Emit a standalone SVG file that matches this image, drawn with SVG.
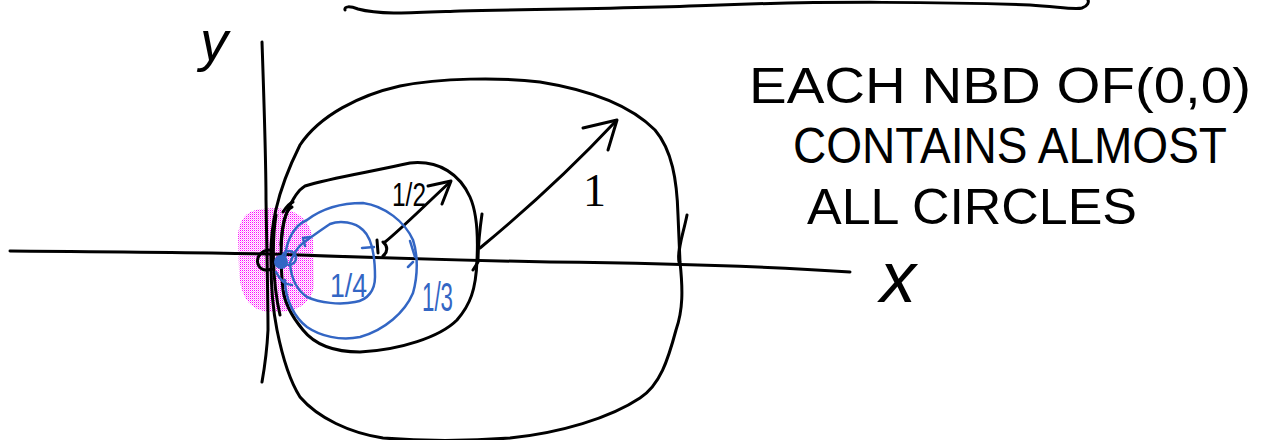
<svg xmlns="http://www.w3.org/2000/svg" width="1264" height="440" viewBox="0 0 1264 440">
<style>
.ink{fill:none;stroke:#000;stroke-width:3;stroke-linecap:round;stroke-linejoin:round}
.blue{fill:none;stroke:#3366c4;stroke-width:2.5;stroke-linecap:round;stroke-linejoin:round}
.hand{font-family:"Liberation Sans",Arial,sans-serif;fill:#000}
.bl{font-family:"Liberation Sans",Arial,sans-serif;fill:#3366c4}
</style>
<defs>
<pattern id="dots" width="2" height="2" patternUnits="userSpaceOnUse">
<rect x="0" y="0" width="1" height="1" fill="#ff00ff"/>
<rect x="1" y="1" width="1" height="1" fill="#ffa8ff"/>
</pattern>
</defs>
<rect width="1264" height="440" fill="#fff"/>

<g id="neighbourhood">
<path d="M262,209 C290,205 310,215 313,240 L314,285 C312,305 295,313 270,312 C248,310 240,295 239,270 L238,235 C240,215 250,210 262,209 Z" fill="url(#dots)"/>
</g>

<g id="topline">
<path class="ink" d="M345,10 C344,6 350,6 358,9 C380,15 410,13 460,11 C560,9 650,8 720,5 C820,1 950,2 1030,5 C1060,7 1075,10 1082,8 C1088,6 1089,2 1088,0"/>
</g>

<g id="axes">
<path class="ink" d="M262,42 C264,100 266,160 266,200 C267,260 268,300 268,330 C267,350 265,365 262,382"/>
<path class="ink" d="M10,251 C150,252 250,253 300,255 C380,258 450,260 550,262 C650,263 760,266 850,272"/>
<text class="hand" x="200" y="60" font-size="56" font-style="italic">y</text>
<text class="hand" x="880" y="302" font-size="72" font-style="italic">x</text>
</g>

<g id="circle-1">
<path class="ink" d="M271,262 C270,230 275,195 300,145 C320,115 360,95 400,86 C440,78 500,77 540,82 C590,90 630,105 655,130 C672,150 677,180 678,215 L680,262 C683,290 683,310 676,330 C668,360 660,385 640,398 C610,418 560,433 510,438 C470,441 420,441 383,438 C350,433 318,418 300,397 C288,378 282,355 277,330 C273,310 271,285 271,262 Z"/>
<path class="ink" d="M687,215 C683,235 677,250 679,262"/>
<path class="ink" d="M480,248 C520,215 570,170 615,122"/>
<path class="ink" d="M583,128 L617,120 L608,150"/>
<text x="583" y="206" font-family="Liberation Serif,serif" font-size="46">1</text>
</g>

<g id="circle-half">
<path class="ink" d="M283,290 C280,260 280,230 287,212 C292,200 298,190 305,186 C330,178 370,172 410,163 C440,160 460,175 470,197 C478,215 478,240 477,260 C476,290 470,305 457,320 C440,337 400,350 360,352 C335,352 315,345 303,330 C293,318 285,305 283,290 Z"/>
<path class="ink" d="M482,214 C480,228 478,245 478,262 L473,270"/>
<path class="ink" d="M377,240 L378,253 M383,242 C388,246 388,252 383,256"/>
<path class="ink" d="M385,242 C400,230 420,210 450,182"/>
<path class="ink" d="M428,186 L451,181 L442,204"/>
<text class="hand" x="392" y="206" font-size="34" textLength="34" lengthAdjust="spacingAndGlyphs">1/2</text>
</g>

<g id="circle-third">
<path class="blue" d="M285,262 C285,240 295,225 307,220 C320,210 340,203 363,203 C385,206 405,222 413,240 C418,255 418,275 413,293 C405,312 385,330 360,337 C340,341 320,336 307,327 C295,318 285,300 285,280"/>
<path class="blue" d="M410,241 L415,257 M413,262 L408,267"/>
<text class="bl" x="422" y="311" font-size="40" textLength="31" lengthAdjust="spacingAndGlyphs">1/3</text>
</g>

<g id="circle-quarter">
<path class="blue" d="M290,263 C293,255 298,247 303,243 C310,238 318,232 330,224 C340,220 355,222 363,230 C372,238 375,255 375,277 C375,290 368,300 355,302 C340,305 320,303 307,297 C297,290 291,278 290,263"/>
<path class="blue" d="M305,246 L303,238 L310,237 M362,248 L374,247"/>
<text class="bl" x="330" y="297" font-size="34" textLength="37" lengthAdjust="spacingAndGlyphs">1/4</text>
</g>

<g id="origin-cluster">
<path class="ink" d="M276,215 C272,240 272,280 280,315"/>
<path class="ink" d="M292,207 C285,210 282,225 281,245"/>
<path class="ink" d="M283,212 C287,206 290,203 293,202"/>
<path class="ink" d="M271,250 C260,250 256,258 258,264 C260,270 266,271 272,269"/>
<circle cx="281" cy="262" r="7" fill="#3366c4"/>
<circle cx="289" cy="258" r="7" class="blue"/>
<path class="blue" d="M276,272 C280,280 285,285 292,285"/>
</g>

<g id="caption">
<text class="hand" x="749" y="103" font-size="50" textLength="502" lengthAdjust="spacingAndGlyphs">EACH NBD OF(0,0)</text>
<text class="hand" x="793" y="163" font-size="50" textLength="434" lengthAdjust="spacingAndGlyphs">CONTAINS ALMOST</text>
<text class="hand" x="807" y="224" font-size="50" textLength="330" lengthAdjust="spacingAndGlyphs">ALL CIRCLES</text>
</g>
</svg>
